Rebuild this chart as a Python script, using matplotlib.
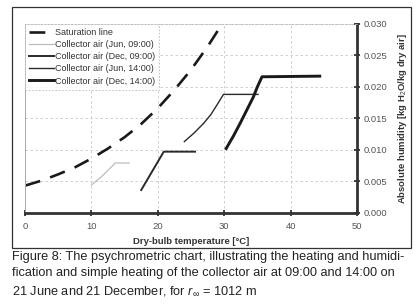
import matplotlib.pyplot as plt
from matplotlib.patches import Rectangle

plt.rcParams['font.family'] = ['Liberation Sans', 'DejaVu Sans']
plt.rcParams['mathtext.fontset'] = 'custom'
plt.rcParams['mathtext.rm'] = 'Liberation Sans'
plt.rcParams['mathtext.it'] = 'Liberation Sans:italic'

# values
sat_t = [0, 2.5, 5, 7.5, 10, 12.5, 15, 17.5, 20, 22.5, 25, 27.5, 30]
sat_w = [0.0043, 0.0051, 0.0061, 0.0072, 0.0086, 0.0102, 0.0120, 0.0141, 0.0166, 0.0195, 0.0227, 0.0264, 0.0305]

jun09_t = [10.0, 11.5, 13.6, 15.7]
jun09_w = [0.0044, 0.0057, 0.0079, 0.0079]

dec09_t = [17.5, 20.9, 25.6]
dec09_w = [0.0036, 0.0097, 0.0097]

jun14_t = [24.0, 25.5, 26.9, 28.0, 28.9, 29.9, 35.1]
jun14_w = [0.0113, 0.0127, 0.0142, 0.0156, 0.0171, 0.0188, 0.0188]

dec14_t = [30.3, 31.4, 32.4, 33.4, 34.4, 35.0, 35.7, 44.4]
dec14_w = [0.0102, 0.0122, 0.0142, 0.0163, 0.0184, 0.0200, 0.0216, 0.0217]

x_ticks = [0, 10, 20, 30, 40, 50]
y_ticks = [0.0, 0.005, 0.010, 0.015, 0.020, 0.025, 0.030]
y_labels = ['0.000', '0.005', '0.010', '0.015', '0.020', '0.025', '0.030']

fig = plt.figure(figsize=(4.17, 3.05), dpi=100)
fig.patches.append(Rectangle((0.029, 0.187), 0.957, 0.79, transform=fig.transFigure,
                             fill=False, edgecolor='#333333', linewidth=0.9))

ax = fig.add_axes([0.060, 0.3026, 0.796, 0.619])

ax.plot(sat_t, sat_w, color='#1a1a1a', lw=1.9, dashes=(6, 4), label='Saturation line')
ax.plot(jun09_t, jun09_w, color='#bdbdbd', lw=0.9, label='Collector air (Jun, 09:00)')
ax.plot(dec09_t, dec09_w, color='#2a2a2a', lw=1.4, label='Collector air (Dec, 09:00)')
ax.plot(jun14_t, jun14_w, color='#2a2a2a', lw=1.0, label='Collector air (Jun, 14:00)')
ax.plot(dec14_t, dec14_w, color='#1a1a1a', lw=2.1, label='Collector air (Dec, 14:00)')

ax.set_xlim(0, 50)
ax.set_ylim(0, 0.030)
ax.set_xticks(x_ticks)
ax.set_yticks(y_ticks)
ax.set_yticklabels(y_labels)
ax.yaxis.tick_right()
ax.yaxis.set_label_position('right')

ax.grid(True, color='#c8c8c8', lw=0.6, linestyle=(0, (3, 3)))

for s in ['right', 'bottom']:
    ax.spines[s].set_linewidth(2.0)
    ax.spines[s].set_color('#333333')
ax.spines['left'].set_color('#aaaaaa')
ax.spines['left'].set_linewidth(0.7)
ax.spines['top'].set_color('#bbbbbb')
ax.spines['top'].set_linewidth(0.6)
ax.spines['top'].set_linestyle((0, (2, 2)))

ax.tick_params(axis='both', direction='inout', length=4, width=1.3, color='#333333',
               labelsize=6.8, labelcolor='#555555')
ax.tick_params(axis='x', pad=5)
ax.tick_params(axis='y', pad=3)

ax.set_xlabel('Dry-bulb temperature [°C]', fontsize=6.8, fontweight='bold', color='#333333', labelpad=4)
ax.set_ylabel('Absolute humidity [kg H$_2$O/kg dry air]', fontsize=6.8, fontweight='bold',
              color='#333333', labelpad=6)

leg = ax.legend(loc='upper left', bbox_to_anchor=(0.0, 1.0), fontsize=6.5, frameon=True,
                fancybox=False, borderaxespad=0, handlelength=2.8, handletextpad=0.1,
                labelspacing=0.35, borderpad=0.45, labelcolor='#333333')
leg.get_frame().set_edgecolor('#aaaaaa')
leg.get_frame().set_linestyle((0, (2, 2)))
leg.get_frame().set_linewidth(0.6)

caption = ('Figure 8: The psychrometric chart, illustrating the heating and humidi-\n'
           'fication and simple heating of the collector air at 09:00 and 14:00 on\n'
           '21 June and 21 December, for $r_{\\infty}$ = 1012 m')
fig.text(0.029, 0.176, caption, fontsize=9.2, color='#222222', va='top', ha='left', linespacing=1.45)

fig.savefig('out.png', dpi=100)
